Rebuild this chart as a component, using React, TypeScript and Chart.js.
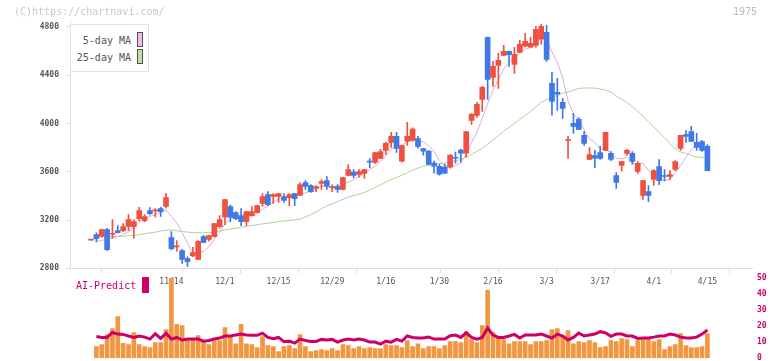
import React, { useEffect, useRef } from 'react';
import { Chart, registerables } from 'chart.js';

Chart.register(...registerables);

const dates = [
  '10/23','10/24','10/27','10/28','10/29','10/30','10/31','11/4','11/5','11/6',
  '11/7','11/10','11/11','11/12','11/13','11/14','11/17','11/18','11/19','11/20',
  '11/21','11/25','11/26','11/27','11/28','12/1','12/2','12/3','12/4','12/5',
  '12/8','12/9','12/10','12/11','12/12','12/15','12/16','12/17','12/18','12/19',
  '12/22','12/23','12/24','12/25','12/26','12/29','12/30','1/5','1/6','1/7',
  '1/8','1/9','1/13','1/14','1/15','1/16','1/19','1/20','1/21','1/22',
  '1/23','1/26','1/27','1/28','1/29','1/30','2/2','2/3','2/4','2/5',
  '2/6','2/9','2/10','2/12','2/13','2/16','2/17','2/18','2/19','2/20',
  '2/24','2/25','2/26','2/27','3/2','3/3','3/4','3/5','3/6','3/9',
  '3/10','3/11','3/12','3/13','3/16','3/17','3/18','3/19','3/23','3/24',
  '3/25','3/26','3/27','3/30','3/31','4/1','4/2','4/3','4/6','4/7',
  '4/8','4/9','4/10','4/13','4/14','4/15',
];

const tickLabels = ['11/14','12/1','12/15','12/29','1/16','1/30','2/16','3/3','3/17','4/1','4/15'];

const openP = [
  3034,3079,3065,3121,3082,3112,3112,3148,3146,3212,
  3195,3278,3276,3295,3312,3054,2977,2946,2880,2902,
  2874,3062,3040,3062,3146,3223,3312,3262,3234,3187,
  3237,3262,3337,3411,3395,3395,3395,3386,3420,3403,
  3511,3486,3461,3503,3528,3467,3478,3453,3569,3597,
  3577,3586,3688,3677,3710,3777,3843,3893,3688,3854,
  3860,3876,3793,3771,3671,3646,3638,3638,3715,3779,
  3754,4025,4067,4200,4714,4382,4482,4565,4598,4490,
  4590,4640,4632,4648,4698,4756,4333,4258,4175,3860,
  4001,4034,3901,3702,3735,3760,3777,3752,3569,3652,
  3752,3752,3602,3403,3436,3536,3644,3565,3561,3619,
  3793,3909,3934,3843,3851,3810,
];
const highP = [
  3037,3093,3126,3132,3204,3154,3170,3245,3204,3306,
  3245,3303,3295,3306,3422,3104,3029,2957,2896,2974,
  3029,3074,3076,3173,3237,3372,3323,3270,3295,3272,
  3312,3322,3420,3436,3420,3422,3420,3420,3422,3511,
  3528,3494,3486,3536,3561,3494,3494,3555,3660,3619,
  3619,3621,3710,3762,3785,3843,3926,3926,3820,4009,
  3965,3893,3795,3775,3688,3663,3663,3740,3763,3788,
  3936,4083,4175,4308,4716,4515,4582,4648,4600,4632,
  4690,4748,4714,4806,4822,4814,4424,4374,4208,3893,
  4084,4050,3934,3801,3777,3810,3928,3768,3594,3687,
  3785,3768,3685,3529,3486,3619,3702,3619,3610,3693,
  3903,3942,3976,3918,3860,3826,
];
const lowP = [
  3034,3019,3057,2946,3049,3093,3104,3112,3049,3190,
  3184,3242,3226,3229,3298,2952,2941,2841,2816,2896,
  2871,3010,3024,3060,3132,3162,3187,3204,3154,3154,
  3235,3260,3312,3320,3337,3345,3345,3320,3320,3401,
  3453,3428,3436,3453,3453,3436,3428,3450,3566,3552,
  3555,3544,3635,3669,3708,3743,3801,3760,3680,3818,
  3854,3796,3738,3655,3588,3572,3585,3630,3671,3680,
  3721,3992,4050,4100,4200,4308,4291,4563,4474,4416,
  4588,4634,4630,4632,4656,4515,4070,4109,4042,3710,
  3918,3949,3818,3700,3635,3702,3775,3693,3461,3602,
  3735,3660,3586,3370,3353,3486,3494,3527,3536,3610,
  3777,3843,3849,3777,3768,3608,
];
const closeP = [
  3037,3046,3121,2955,3090,3096,3146,3204,3187,3278,
  3229,3253,3280,3270,3386,2963,2981,2874,2855,2930,
  3024,3015,3071,3170,3204,3370,3223,3212,3187,3270,
  3270,3320,3395,3328,3411,3420,3362,3411,3378,3494,
  3478,3436,3478,3519,3478,3475,3453,3552,3619,3569,
  3602,3619,3680,3760,3768,3835,3893,3793,3818,3893,
  3953,3810,3771,3660,3646,3580,3588,3738,3712,3754,
  3934,4075,4158,4299,4366,4474,4524,4598,4571,4573,
  4656,4681,4665,4781,4806,4532,4183,4244,4125,3866,
  3976,3951,3835,3743,3713,3710,3926,3702,3511,3685,
  3777,3685,3669,3527,3403,3610,3527,3561,3577,3685,
  3901,3893,3851,3801,3777,3610,
];

const ma5 = [
  null,3024,3032,3040,3049,3062,3082,3098,3145,3182,
  3209,3230,3245,3262,3284,3230,3176,3095,3012,2921,
  2933,2940,2979,3042,3097,3166,3208,3236,3239,3252,
  3232,3252,3288,3317,3345,3375,3383,3386,3396,3413,
  3425,3439,3453,3481,3478,3477,3481,3495,3515,3534,
  3559,3592,3618,3646,3686,3732,3787,3810,3821,3846,
  3870,3853,3849,3817,3768,3693,3649,3642,3653,3674,
  3745,3843,3927,4044,4166,4274,4364,4452,4507,4548,
  4584,4616,4629,4671,4718,4693,4593,4509,4378,4190,
  4079,4032,3951,3874,3844,3790,3785,3759,3712,3707,
  3720,3672,3665,3669,3612,3579,3547,3526,3536,3592,
  3650,3723,3781,3826,3845,3786,
];
const ma25 = [
  null,null,3062,3062,3062,3064,3066,3070,3074,3080,
  3086,3094,3100,3108,3116,3118,3110,3105,3100,3096,
  3095,3095,3096,3099,3107,3120,3127,3131,3140,3147,
  3154,3161,3169,3174,3180,3187,3192,3197,3201,3206,
  3226,3244,3268,3295,3317,3335,3353,3372,3390,3404,
  3414,3429,3448,3471,3491,3514,3537,3552,3572,3591,
  3613,3631,3645,3656,3662,3666,3672,3683,3691,3702,
  3720,3745,3769,3796,3828,3863,3899,3936,3968,4001,
  4033,4065,4100,4138,4175,4198,4213,4232,4251,4259,
  4275,4290,4294,4295,4293,4284,4278,4260,4228,4201,
  4173,4140,4103,4061,4014,3972,3926,3882,3834,3789,
  3764,3752,3736,3723,3720,3705,
];

const volume = [
  null,7.2,8.4,14.7,18.4,25.9,9.3,8.4,15.9,8.4,
  7.2,6.6,9.7,9.7,17.8,49.7,21,20.3,11.6,11.6,
  14.1,10.3,8.4,10.9,10.9,19,14.1,9,21,9,
  8.4,6.6,13.4,7.8,7.2,4.1,7.2,7.8,6,14.7,
  7.2,4.1,4.7,5.3,4.7,6,4.7,8.4,7.8,6,
  7.2,6,6.6,6,6,8.4,7.8,7.8,6.6,10.9,
  7.2,9,6,7.2,7.2,6,7.8,10.3,10.3,9.7,
  16.6,11.6,9.7,20.3,42.2,15.9,12.2,11.6,9,10.3,
  10.3,10.3,8.4,10.3,10.3,10.9,17.8,18.4,14.1,17.2,
  9,10.3,9.7,10.9,9.7,6.6,7.2,10.9,10.3,12.2,
  11.6,7.2,10.9,12.2,12.2,10.3,11.6,5.3,7.2,8.4,
  15.3,7.8,6.6,6.6,7.2,15.3,
];
const aiPredict = [
  null,13.5,12.9,12.9,16,15,14.8,13.8,12.9,13.8,
  13.1,11.9,15.2,12.3,15.4,11.9,12.9,11.3,11.9,11.9,
  11.9,10.6,11,11.9,12.5,13.8,13.8,14.4,15,14.4,
  14.2,14.2,15.6,12.9,12.1,12.9,10.2,10.6,9.4,11.9,
  11,10.4,10.4,11.7,11.3,11.7,10,11.3,11.9,11.3,
  11.9,11.3,10,10,8.8,10.6,10,11.7,10.6,13.8,
  12.9,12.5,12.5,13.1,11.9,11.9,11.9,14,14.4,12.9,
  15.8,12.9,11.9,12.9,18.8,14.4,12.9,12.9,13.8,14.8,
  12.5,14.4,14.4,14.4,15,13.8,12.5,15,13.8,11.3,
  12.9,15.6,13.8,14.4,15,16.5,15.8,13.6,15,15,
  13.8,13.8,12.3,12.5,12.5,13.1,13.8,13.8,15,14.4,
  13.1,12.5,12.5,13.1,15,17.5,
];

const priceTicks = [2800, 3200, 3600, 4000, 4400, 4800];
const aiTicks = [0, 10, 20, 30, 40, 50];

const X_MIN = -3.918;
const X_MAX = 123.32;
const GRID_STEPS = 11;

const RED = '#f05040';
const BLUE = '#4078e8';
const ORANGE = '#f29641';
const MAGENTA = '#cc0066';
const PINK = '#e2a8e2';
const GREEN = '#a9d69a';
const AXIS = '#dddddd';
const MONO = "'DejaVu Sans Mono', monospace";

export default function App() {
  const priceRef = useRef<HTMLCanvasElement | null>(null);
  const volRef = useRef<HTMLCanvasElement | null>(null);

  useEffect(() => {
    const labelIdx = tickLabels.map((l) => dates.indexOf(l));
    const gridVals: number[] = [];
    for (let k = 0; k <= GRID_STEPS; k++) gridVals.push(X_MIN + (k * (X_MAX - X_MIN)) / GRID_STEPS);
    const xTickVals = [...gridVals, ...labelIdx].sort((a, b) => a - b);
    const candleColors = dates.map((_, i) => (closeP[i] >= openP[i] ? RED : BLUE));

    const price = new Chart(priceRef.current!, {
      type: 'bar',
      data: {
        datasets: [
          {
            type: 'line',
            label: '25-day MA',
            data: dates.map((_, i) => ({ x: i, y: ma25[i] })),
            borderColor: GREEN,
            borderWidth: 1,
            pointRadius: 0,
            tension: 0,
            order: 4,
          } as any,
          {
            type: 'line',
            label: '5-day MA',
            data: dates.map((_, i) => ({ x: i, y: ma5[i] })),
            borderColor: PINK,
            borderWidth: 1,
            pointRadius: 0,
            tension: 0,
            order: 3,
          } as any,
          {
            type: 'bar',
            label: 'wick',
            data: dates.map((_, i) => ({ x: i, y: [lowP[i], highP[i]] })),
            backgroundColor: candleColors,
            barThickness: 1,
            grouped: false,
            borderWidth: 0,
            order: 2,
          } as any,
          {
            type: 'bar',
            label: 'body',
            data: dates.map((_, i) => ({ x: i, y: [openP[i], closeP[i]] })),
            backgroundColor: candleColors,
            barThickness: 5,
            minBarLength: 1,
            grouped: false,
            borderWidth: 0,
            order: 1,
          } as any,
        ],
      },
      options: {
        animation: false,
        responsive: false,
        events: [],
        layout: { padding: { top: 21.3, right: 20, left: 0, bottom: 0 } },
        plugins: { legend: { display: false }, tooltip: { enabled: false } },
        scales: {
          x: {
            type: 'linear',
            min: X_MIN,
            max: X_MAX,
            offset: false,
            afterBuildTicks: (s: any) => {
              s.ticks = xTickVals.map((v) => ({ value: v }));
            },
            afterFit: (s: any) => {
              s.height = 26.7;
            },
            grid: {
              drawOnChartArea: false,
              tickLength: 5,
              tickColor: (ctx: any) =>
                ctx.tick && !Number.isInteger(ctx.tick.value) ? AXIS : 'rgba(0,0,0,0)',
            },
            border: { display: true, color: AXIS, width: 1 },
            ticks: {
              autoSkip: false,
              maxRotation: 0,
              minRotation: 0,
              padding: 4,
              color: '#555',
              font: { family: MONO, size: 8 },
              callback: (v: any) => (Number.isInteger(v) ? dates[v] : ''),
            },
          },
          y: {
            type: 'linear',
            min: 2800,
            max: 4847,
            afterBuildTicks: (s: any) => {
              s.ticks = priceTicks.map((v) => ({ value: v }));
            },
            afterFit: (s: any) => {
              s.width = 70;
            },
            grid: { drawOnChartArea: false, tickLength: 4, tickColor: AXIS },
            border: { display: true, color: AXIS, width: 1 },
            ticks: {
              padding: 7,
              color: '#555',
              font: { family: MONO, size: 8, weight: 'bold' },
              callback: (v: any) => String(v),
            },
          },
        },
      } as any,
    });

    const vol = new Chart(volRef.current!, {
      type: 'bar',
      data: {
        datasets: [
          {
            type: 'line',
            label: 'AI-Predict',
            data: dates.map((_, i) => ({ x: i, y: aiPredict[i] })),
            borderColor: MAGENTA,
            borderWidth: 3,
            pointRadius: 0,
            tension: 0,
            yAxisID: 'ai',
            order: 0,
          } as any,
          {
            type: 'bar',
            label: 'Volume',
            data: dates.map((_, i) => ({ x: i, y: volume[i] })),
            backgroundColor: ORANGE,
            barThickness: 4,
            borderWidth: 0,
            yAxisID: 'vol',
            order: 1,
          } as any,
        ],
      },
      options: {
        animation: false,
        responsive: false,
        events: [],
        layout: { padding: { top: 9.7, right: 0, left: 70, bottom: 9.7 } },
        plugins: { legend: { display: false }, tooltip: { enabled: false } },
        scales: {
          x: { type: 'linear', min: X_MIN, max: X_MAX, offset: false, display: false },
          vol: { type: 'linear', min: 0, max: 50, display: false },
          ai: {
            type: 'linear',
            position: 'right',
            min: 0,
            max: 50,
            afterBuildTicks: (s: any) => {
              s.ticks = aiTicks.map((v) => ({ value: v }));
            },
            afterFit: (s: any) => {
              s.width = 20;
            },
            grid: { display: false, drawTicks: false, tickLength: 0 },
            border: { display: false },
            ticks: {
              padding: 5,
              color: MAGENTA,
              font: { family: MONO, size: 8, weight: 'bold' },
              callback: (v: any) => String(v),
            },
          },
        },
      } as any,
    });

    return () => {
      price.destroy();
      vol.destroy();
    };
  }, []);

  const abs: React.CSSProperties = { position: 'absolute', fontFamily: MONO, whiteSpace: 'nowrap' };

  return (
    <div style={{ position: 'relative', width: 772, height: 361, overflow: 'hidden', background: '#fff' }}>
      <style>{'body{margin:0;}'}</style>
      <canvas ref={priceRef} width={772} height={295} style={{ position: 'absolute', left: 0, top: 0 }} />
      <canvas ref={volRef} width={772} height={100} style={{ position: 'absolute', left: 0, top: 268 }} />
      <div style={{ ...abs, left: 14, top: 5, fontSize: 10, lineHeight: '14px', color: '#c8c8c8' }}>
        (C)https://chartnavi.com/
      </div>
      <div style={{ ...abs, left: 733, top: 5, fontSize: 10, lineHeight: '14px', color: '#bbbbbb' }}>1975</div>
      <div
        style={{
          position: 'absolute',
          left: 70,
          top: 24,
          width: 77,
          height: 46,
          border: '1px solid #e2e2e2',
          background: '#fff',
        }}
      >
        <div style={{ ...abs, right: 17, top: 9, fontSize: 10, lineHeight: '14px', color: '#555' }}>5-day MA</div>
        <div style={{ position: 'absolute', left: 66, top: 7, width: 4, height: 13, border: '1px solid #555', background: '#f0baf0' }} />
        <div style={{ ...abs, right: 17, top: 26, fontSize: 10, lineHeight: '14px', color: '#555' }}>25-day MA</div>
        <div style={{ position: 'absolute', left: 66, top: 24, width: 4, height: 13, border: '1px solid #555', background: '#b8e0a8' }} />
      </div>
      <div style={{ ...abs, left: 76, top: 279, fontSize: 10, lineHeight: '14px', color: MAGENTA }}>AI-Predict</div>
      <div style={{ position: 'absolute', left: 142, top: 277, width: 7, height: 16, background: MAGENTA }} />
    </div>
  );
}
